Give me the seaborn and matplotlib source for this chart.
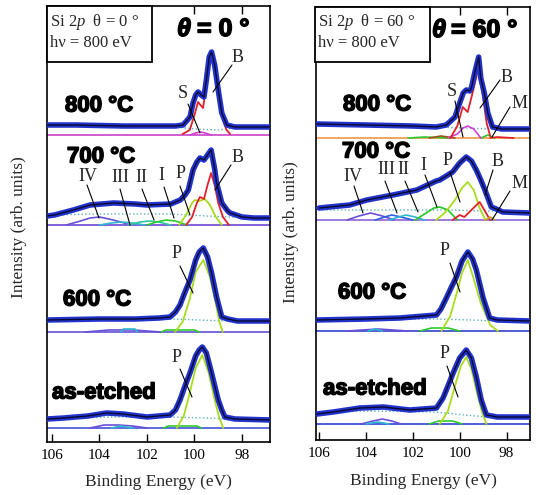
import numpy as np
import pandas as pd
import matplotlib
matplotlib.use("Agg")
import matplotlib.pyplot as plt
import seaborn as sns
from matplotlib import patheffects as pe
from matplotlib.patches import Rectangle

# ---------------- data (binding energy in eV, intensity in arb. units) ----------------
# theta = 0 deg panel
t0_ae_be = [106.2, 105.5, 104.5, 103.7, 103.0, 102.0, 101.03, 100.8, 100.61, 100.4, 100.19, 99.95, 99.8, 99.67, 99.5, 99.28, 99.0, 98.85, 98.72, 98.3, 96.8]
t0_ae_int = [9, 10, 12, 15, 14, 11, 13, 18, 28, 42, 55, 72, 78, 81, 75, 55, 28, 18, 11, 9, 8]
t0_ae_P_be = [100.75, 100.45, 100.2, 99.95, 99.67, 99.4, 99.15, 98.95, 98.79]
t0_ae_P_int = [0, 12, 35, 60, 73, 55, 28, 10, 0]
t0_ae_s1_be = [104.4, 103.8, 103.2, 102.6, 102.0]
t0_ae_s1_int = [0, 3, 3, 2, 0]
t0_ae_s2_be = [103.5, 103.1, 102.6]
t0_ae_s2_int = [0, 2, 0]
t0_ae_s3_be = [101.3, 101.1, 99.9, 99.7]
t0_ae_s3_int = [0, 2, 2, 0]
t0_ae_bg_be = [106.2, 103.5, 101.0, 99.5, 98.7, 96.8]
t0_ae_bg_int = [9, 11, 11, 10, 9, 8]

t0_600_be = [106.2, 104.0, 102.5, 101.5, 101.03, 100.8, 100.61, 100.4, 100.19, 99.95, 99.8, 99.63, 99.45, 99.28, 99.07, 98.85, 98.6, 98.2, 96.8]
t0_600_int = [12, 13, 13, 14, 15, 20, 27, 40, 52, 72, 80, 84, 75, 59, 35, 15, 13, 11, 11]
t0_600_P_be = [100.82, 100.5, 100.2, 99.95, 99.63, 99.35, 99.1, 98.95, 98.81]
t0_600_P_int = [0, 10, 33, 60, 72, 55, 28, 10, 0]
t0_600_s1_be = [104.6, 103.6, 102.6, 101.4]
t0_600_s1_int = [0, 2, 2, 0]
t0_600_s2_be = [103.1, 103.0, 102.5, 102.4]
t0_600_s2_int = [0, 3, 3, 0]
t0_600_s3_be = [101.4, 101.2, 100.0, 99.8]
t0_600_s3_int = [0, 2, 2, 0]
t0_600_bg_be = [106.2, 101.0, 99.8, 98.6, 96.8]
t0_600_bg_int = [12, 13, 12, 11, 11]

t0_700_be = [106.2, 105.9, 105.1, 104.4, 103.4, 102.5, 102.0, 101.0, 100.6, 100.4, 100.26, 100.06, 99.9, 99.77, 99.6, 99.45, 99.3, 99.15, 99.07, 98.85, 98.6, 98.5, 98.0, 97.5, 96.8]
t0_700_int = [9, 10, 15, 20, 22, 21, 20, 21, 25, 30, 35, 55, 63, 67, 65, 70, 75, 56, 42, 22, 14, 12, 8, 7, 7]
t0_700_IV_be = [105.4, 104.8, 104.4, 104.0, 103.6, 103.1, 102.7]
t0_700_IV_int = [0, 4, 7, 8, 6, 3, 0]
t0_700_III_be = [104.0, 103.5, 103.1, 102.6, 102.1]
t0_700_III_int = [0, 2, 3, 2, 0]
t0_700_II_be = [102.8, 102.3, 101.9, 101.5, 101.0]
t0_700_II_int = [0, 3, 4, 3, 0]
t0_700_I_be = [102.0, 101.6, 101.2, 100.8, 100.3]
t0_700_I_int = [0, 3, 5, 4, 0]
t0_700_P_be = [100.65, 100.35, 100.1, 99.98, 99.8, 99.56, 99.35, 99.1, 98.85]
t0_700_P_int = [0, 10, 22, 25, 24, 26, 20, 8, 0]
t0_700_B_be = [100.35, 100.1, 99.9, 99.77, 99.6, 99.45, 99.3, 99.15, 99.0, 98.8, 98.55]
t0_700_B_int = [0, 8, 22, 28, 26, 40, 52, 40, 22, 8, 0]
t0_700_bg_be = [106.2, 104.0, 101.0, 99.5, 98.5, 96.8]
t0_700_bg_int = [10, 11, 11, 9, 8, 7]

t0_800_be = [106.2, 105.0, 103.0, 101.5, 100.8, 100.48, 100.19, 100.06, 99.95, 99.85, 99.72, 99.6, 99.5, 99.38, 99.28, 99.15, 99.0, 98.85, 98.64, 98.3, 97.5, 96.8]
t0_800_int = [10, 10, 9, 9, 9, 10, 18, 32, 40, 43, 40, 38, 55, 78, 83, 70, 45, 22, 10, 8, 8, 8]
t0_800_B_be = [100.5, 100.2, 100.0, 99.85, 99.75, 99.64, 99.5, 99.38, 99.28, 99.15, 98.95, 98.8, 98.65, 98.5]
t0_800_B_int = [1, 5, 20, 33, 30, 27, 50, 72, 78, 62, 38, 15, 5, 1]
t0_800_S_be = [100.2, 99.95, 99.75, 99.55, 99.3]
t0_800_S_int = [0, 2, 3, 2, 0]
t0_800_bg_be = [106.2, 101.2, 100.0, 99.0, 98.3, 96.8]
t0_800_bg_int = [10, 9, 6, 5, 7, 8]

# theta = 60 deg panel
t60_ae_be = [106.1, 105.39, 104.26, 103.26, 102.13, 100.99, 100.71, 100.5, 100.28, 100.0, 99.72, 99.5, 99.29, 99.08, 98.86, 98.4, 97.0]
t60_ae_int = [10, 12, 16, 17, 14, 16, 26, 38, 51, 66, 74, 66, 47, 24, 9, 7, 7]
t60_ae_P_be = [100.85, 100.5, 100.2, 99.95, 99.72, 99.5, 99.25, 99.05, 98.86]
t60_ae_P_int = [0, 13, 38, 58, 67, 55, 30, 12, 0]
t60_ae_s1_be = [104.2, 103.7, 103.3, 102.9, 102.5]
t60_ae_s1_int = [0, 3, 5, 3, 0]
t60_ae_s2_be = [104.0, 103.5, 103.0]
t60_ae_s2_int = [0, 2, 0]
t60_ae_s3_be = [101.3, 100.9, 100.3, 99.9]
t60_ae_s3_int = [0, 3, 3, 0]
t60_ae_bg_be = [106.1, 104.0, 101.0, 99.8, 98.8, 97.0]
t60_ae_bg_int = [12, 13, 12, 9, 7, 7]

t60_600_be = [106.1, 104.0, 102.55, 101.5, 100.99, 100.8, 100.57, 100.35, 100.14, 99.9, 99.65, 99.45, 99.29, 99.0, 98.72, 98.4, 97.0]
t60_600_int = [11, 12, 13, 15, 16, 22, 33, 44, 54, 70, 79, 72, 61, 33, 13, 11, 10]
t60_600_P_be = [100.78, 100.4, 100.1, 99.9, 99.65, 99.4, 99.1, 98.7, 98.37]
t60_600_P_int = [0, 15, 40, 58, 71, 52, 28, 6, 0]
t60_600_s1_be = [104.8, 103.5, 102.2]
t60_600_s1_int = [0, 2, 0]
t60_600_s2_be = [103.9, 103.6, 103.3]
t60_600_s2_int = [0, 2, 0]
t60_600_s3_be = [101.7, 101.2, 100.5, 100.0]
t60_600_s3_int = [0, 3, 3, 0]
t60_600_bg_be = [106.1, 101.0, 99.5, 98.4, 97.0]
t60_600_bg_int = [11, 12, 11, 10, 10]

t60_700_be = [106.0, 104.7, 103.96, 102.85, 101.83, 101.0, 100.85, 100.3, 100.0, 99.72, 99.5, 99.29, 99.1, 98.94, 98.65, 98.44, 98.17, 97.0]
t60_700_int = [12, 15, 20, 25, 30, 39, 40, 48, 57, 63, 59, 50, 40, 31, 13, 11, 8, 7]
t60_700_IV_be = [104.8, 104.3, 103.8, 103.3, 102.8]
t60_700_IV_int = [0, 4, 7, 4, 0]
t60_700_III_be = [103.6, 103.2, 102.9, 102.5, 102.0]
t60_700_III_int = [0, 3, 5, 3, 0]
t60_700_II_be = [103.0, 102.6, 102.3, 101.9, 101.5]
t60_700_II_int = [0, 3, 5, 3, 0]
t60_700_I_be = [101.9, 101.5, 101.1, 100.85, 100.5, 100.1]
t60_700_I_int = [0, 6, 12, 13, 10, 0]
t60_700_P_be = [101.0, 100.6, 100.2, 99.9, 99.66, 99.4, 99.15, 98.9]
t60_700_P_int = [0, 8, 20, 32, 38, 30, 12, 0]
t60_700_B_be = [100.3, 100.0, 99.8, 99.5, 99.15, 98.95, 98.7]
t60_700_B_int = [0, 5, 3, 10, 18, 10, 0]
t60_700_M_be = [98.9, 98.7, 98.5]
t60_700_M_int = [0, 3, 0]
t60_700_bg_be = [106.0, 103.0, 100.5, 99.0, 98.4, 97.0]
t60_700_bg_int = [10, 10, 10, 9, 9, 8]

t60_800_be = [106.1, 104.0, 102.0, 101.0, 100.57, 100.2, 100.0, 99.85, 99.72, 99.57, 99.5, 99.36, 99.19, 99.1, 98.95, 98.8, 98.6, 98.2, 97.0]
t60_800_int = [14, 13, 12, 11, 13, 21, 35, 45, 48, 47, 50, 65, 81, 60, 45, 25, 11, 9, 9]
t60_800_B_be = [100.4, 100.1, 99.87, 99.66, 99.45, 99.19, 99.0, 98.85, 98.7]
t60_800_B_int = [0, 12, 31, 26, 45, 71, 40, 15, 2]
t60_800_S_be = [100.5, 100.1, 99.85, 99.66, 99.4, 99.1]
t60_800_S_int = [0, 4, 10, 12, 9, 0]
t60_800_M_be = [99.1, 98.8, 98.5]
t60_800_M_int = [0, 3, 0]
t60_800_M2_be = [98.7, 98.4, 97.7]
t60_800_M2_int = [0, 1, 0]
t60_800_s1_be = [102.2, 101.5, 100.4]
t60_800_s1_int = [0, 1, 0]
t60_800_s2_be = [101.3, 100.8, 100.2]
t60_800_s2_int = [0, 2, 0]
t60_800_bg_be = [106.1, 101.0, 99.7, 98.6, 97.0]
t60_800_bg_int = [14, 11, 10, 9, 9]

# stacking offsets (as-etched, 600, 700, 800)
t0_offsets = [14, 110, 217, 307]
t60_offsets = [18, 111, 222, 304]
conditions = ["as-etched", "600 \u00b0C", "700 \u00b0C", "800 \u00b0C"]
xticks = [106, 104, 102, 100, 98]

# ---------------- styling ----------------
sns.set_style("ticks")
plt.rcParams["font.family"] = ["Liberation Serif", "DejaVu Serif"]
plt.rcParams["mathtext.fontset"] = "custom"
plt.rcParams["mathtext.rm"] = "Liberation Serif"
plt.rcParams["mathtext.it"] = "Liberation Serif:italic"

W, H = 536, 495
fig = plt.figure(figsize=(W / 100, H / 100), dpi=100)


def fp(x, y):
    return (x / W, 1 - y / H)


axL = fig.add_axes([47 / W, 1 - 442 / H, 223 / W, 436 / H])
axR = fig.add_axes([316 / W, 1 - 440 / H, 214 / W, 433 / H])

C_DATA = "#2233cc"
C_P = "#a8dc1c"
C_B = "#e0202a"
C_S = "#d040d0"
C_IV = "#6a50d8"
C_III = "#30b8d0"
C_II = "#30c8a0"
C_I = "#30c830"
C_BG = "#60b0b8"


def curve(ax, be, val, off, color, lw=1.0, ls="-", z=3):
    df = pd.DataFrame({"be": be, "y": np.asarray(val, dtype=float) + off})
    sns.lineplot(data=df, x="be", y="y", ax=ax, color=color, lw=lw,
                 linestyle=ls, zorder=z, estimator=None, sort=True)


def spectrum(ax, be, val, off):
    curve(ax, be, val, off, C_DATA, lw=4.0, z=5)
    curve(ax, be, val, off, "#0a0a30", lw=1.0, z=6)


def baseline(ax, off, color, xlim):
    curve(ax, list(xlim), [0, 0], off, color, lw=1.3, z=2)


# ---- left panel ----
xl = (106.21, 96.82)
o = t0_offsets
baseline(axL, o[0], "#5060e0", xl)
curve(axL, t0_ae_bg_be, t0_ae_bg_int, o[0], C_BG, 1.0, ":")
curve(axL, t0_ae_s1_be, t0_ae_s1_int, o[0], C_IV, 1.2)
curve(axL, t0_ae_s2_be, t0_ae_s2_int, o[0], C_III, 1.2)
curve(axL, t0_ae_s3_be, t0_ae_s3_int, o[0], C_I, 1.2)
curve(axL, t0_ae_P_be, t0_ae_P_int, o[0], C_P, 1.3)
spectrum(axL, t0_ae_be, t0_ae_int, o[0])

baseline(axL, o[1], "#7060d8", xl)
curve(axL, t0_600_bg_be, t0_600_bg_int, o[1], C_BG, 1.0, ":")
curve(axL, t0_600_s1_be, t0_600_s1_int, o[1], C_IV, 1.2)
curve(axL, t0_600_s2_be, t0_600_s2_int, o[1], C_III, 1.2)
curve(axL, t0_600_s3_be, t0_600_s3_int, o[1], C_I, 1.2)
curve(axL, t0_600_P_be, t0_600_P_int, o[1], C_P, 1.3)
spectrum(axL, t0_600_be, t0_600_int, o[1])

baseline(axL, o[2], "#7a55d8", xl)
curve(axL, t0_700_bg_be, t0_700_bg_int, o[2], C_BG, 1.0, ":")
curve(axL, t0_700_IV_be, t0_700_IV_int, o[2], C_IV, 1.2)
curve(axL, t0_700_III_be, t0_700_III_int, o[2], C_III, 1.2)
curve(axL, t0_700_II_be, t0_700_II_int, o[2], C_II, 1.2)
curve(axL, t0_700_I_be, t0_700_I_int, o[2], C_I, 1.2)
curve(axL, t0_700_P_be, t0_700_P_int, o[2], C_P, 1.3)
curve(axL, t0_700_B_be, t0_700_B_int, o[2], C_B, 1.3)
spectrum(axL, t0_700_be, t0_700_int, o[2])

baseline(axL, o[3], "#d050d0", xl)
curve(axL, t0_800_bg_be, t0_800_bg_int, o[3], C_BG, 1.0, ":")
curve(axL, t0_800_S_be, t0_800_S_int, o[3], C_S, 1.2)
curve(axL, t0_800_B_be, t0_800_B_int, o[3], C_B, 1.3)
spectrum(axL, t0_800_be, t0_800_int, o[3])

# ---- right panel ----
xr = (106.13, 97.0)
o = t60_offsets
baseline(axR, o[0], "#4050d0", xr)
curve(axR, t60_ae_bg_be, t60_ae_bg_int, o[0], C_BG, 1.0, ":")
curve(axR, t60_ae_s1_be, t60_ae_s1_int, o[0], C_IV, 1.2)
curve(axR, t60_ae_s2_be, t60_ae_s2_int, o[0], C_III, 1.2)
curve(axR, t60_ae_s3_be, t60_ae_s3_int, o[0], C_I, 1.2)
curve(axR, t60_ae_P_be, t60_ae_P_int, o[0], C_P, 1.3)
spectrum(axR, t60_ae_be, t60_ae_int, o[0])

baseline(axR, o[1], "#4050d0", xr)
curve(axR, t60_600_bg_be, t60_600_bg_int, o[1], C_BG, 1.0, ":")
curve(axR, t60_600_s1_be, t60_600_s1_int, o[1], C_IV, 1.2)
curve(axR, t60_600_s2_be, t60_600_s2_int, o[1], C_III, 1.2)
curve(axR, t60_600_s3_be, t60_600_s3_int, o[1], C_I, 1.2)
curve(axR, t60_600_P_be, t60_600_P_int, o[1], C_P, 1.3)
spectrum(axR, t60_600_be, t60_600_int, o[1])

baseline(axR, o[2], "#9a70d8", xr)
curve(axR, t60_700_bg_be, t60_700_bg_int, o[2], C_BG, 1.0, ":")
curve(axR, t60_700_IV_be, t60_700_IV_int, o[2], C_IV, 1.2)
curve(axR, t60_700_III_be, t60_700_III_int, o[2], "#3060e0", 1.2)
curve(axR, t60_700_II_be, t60_700_II_int, o[2], C_III, 1.2)
curve(axR, t60_700_I_be, t60_700_I_int, o[2], C_I, 1.3)
curve(axR, t60_700_P_be, t60_700_P_int, o[2], C_P, 1.3)
curve(axR, t60_700_B_be, t60_700_B_int, o[2], C_B, 1.3)
curve(axR, t60_700_M_be, t60_700_M_int, o[2], "#c8a020", 1.2)
spectrum(axR, t60_700_be, t60_700_int, o[2])

baseline(axR, o[3], "#f0a050", xr)
curve(axR, t60_800_bg_be, t60_800_bg_int, o[3], C_BG, 1.0, ":")
curve(axR, t60_800_s1_be, t60_800_s1_int, o[3], C_I, 1.2)
curve(axR, t60_800_s2_be, t60_800_s2_int, o[3], "#a05020", 1.2)
curve(axR, t60_800_M_be, t60_800_M_int, o[3], C_I, 1.2)
curve(axR, t60_800_M2_be, t60_800_M2_int, o[3], C_B, 1.2)
curve(axR, t60_800_S_be, t60_800_S_int, o[3], C_S, 1.2)
curve(axR, t60_800_B_be, t60_800_B_int, o[3], C_B, 1.3)
spectrum(axR, t60_800_be, t60_800_int, o[3])

for ax, xlim, ylim in ((axL, xl, (0, 436)), (axR, xr, (2, 435))):
    ax.set_xlim(*xlim)
    ax.set_ylim(*ylim)
    ax.set_xticks(xticks)
    ax.set_xticklabels([str(t) for t in xticks], fontsize=11)
    ax.set_yticks([])
    ax.tick_params(axis="x", direction="in", length=6, width=1.0, top=True,
                   labeltop=False, pad=5, colors="black")
    ax.set_xlabel("")
    ax.set_ylabel("")
    for s in ax.spines.values():
        s.set_visible(True)
        s.set_linewidth(1.2)
        s.set_color("black")

# ---------------- text ----------------
bold = dict(family=["Liberation Sans", "DejaVu Sans"], fontweight="bold",
            fontsize=16, color="black",
            path_effects=[pe.withStroke(linewidth=1.1, foreground="black")])
cond_pos_L = [(52, 393), (63, 300), (67, 157), (65, 106)]
cond_pos_R = [(323, 389), (338, 293), (342, 152), (343, 105)]
for name, (x, y) in zip(conditions, cond_pos_L):
    fig.text(*fp(x, y), name, ha="left", va="center", **bold)
for name, (x, y) in zip(conditions, cond_pos_R):
    fig.text(*fp(x, y), name, ha="left", va="center", **bold)

tb = dict(family=["Liberation Sans", "DejaVu Sans"], fontweight="bold",
          fontsize=18, color="black",
          path_effects=[pe.withStroke(linewidth=1.1, foreground="black")])
fig.text(*fp(177, 29), "\u03b8", ha="left", va="center", style="italic", **tb)
fig.text(*fp(197, 29), "= 0 \u00b0", ha="left", va="center", **tb)
fig.text(*fp(432, 30), "\u03b8", ha="left", va="center", style="italic", **tb)
fig.text(*fp(451, 30), "= 60 \u00b0", ha="left", va="center", **tb)

# info boxes
for (x0, y0, x1, y1, ang) in ((47, 6, 152, 62, "0"), (315, 7, 430, 62, "60")):
    r = Rectangle(fp(x0, y1), (x1 - x0) / W, (y1 - y0) / H, transform=fig.transFigure,
                  facecolor="white", edgecolor="black", lw=1.3, zorder=10)
    fig.add_artist(r)
    fig.text(*fp(x0 + 3, 22), "Si 2$p$  \u03b8 = " + ang + " \u00b0", ha="left",
             va="center", fontsize=12, zorder=11)
    fig.text(*fp(x0 + 3, 43), "h\u03bd = 800 eV", ha="left", va="center",
             fontsize=12, zorder=11)

# peak labels with leader lines (figure-pixel positions)
labels = [
    ("S", (183, 93), (188, 104), (200, 133)),
    ("B", (238, 58), (232, 65), (213, 92)),
    ("B", (238, 158), (231, 165), (215, 190)),
    ("IV", (88, 176), (87, 185), (99, 218)),
    ("III", (120, 178), (120, 189), (130, 225)),
    ("II", (141, 177), (142, 189), (154, 220)),
    ("I", (161, 175), (164, 187), (174, 218)),
    ("P", (181, 174), (180, 186), (190, 215)),
    ("P", (177, 254), (180, 266), (193, 293)),
    ("P", (177, 357), (180, 369), (192, 397)),
    ("S", (452, 92), (455, 101), (463, 137)),
    ("B", (507, 77), (500, 80), (480, 108)),
    ("M", (520, 103), (510, 107), (492, 137)),
    ("IV", (353, 176), (354, 186), (363, 213)),
    ("III", (386, 170), (385, 181), (397, 213)),
    ("II", (403, 170), (405, 181), (418, 212)),
    ("I", (423, 166), (425, 175), (437, 207)),
    ("P", (448, 160), (450, 172), (460, 202)),
    ("B", (498, 161), (493, 170), (485, 195)),
    ("M", (520, 184), (510, 191), (492, 220)),
    ("P", (445, 250), (450, 263), (460, 292)),
    ("P", (445, 354), (447, 366), (458, 397)),
]
for txt, tp, p0, p1 in labels:
    fig.text(*fp(*tp), txt, ha="center", va="center", fontsize=13, zorder=12)
    fig.add_artist(plt.Line2D([fp(*p0)[0], fp(*p1)[0]], [fp(*p0)[1], fp(*p1)[1]],
                              transform=fig.transFigure, color="black", lw=0.8, zorder=12))

fig.text(*fp(158, 482), "Binding Energy (eV)", ha="center", va="center", fontsize=12.5)
fig.text(*fp(423, 481), "Binding Energy (eV)", ha="center", va="center", fontsize=12.5)
fig.text(*fp(19, 227), "Intensity (arb. units)", ha="center", va="center",
         rotation=90, fontsize=12.5)
fig.text(*fp(291, 232), "Intensity (arb. units)", ha="center", va="center",
         rotation=90, fontsize=12.5)

fig.savefig("out.png", dpi=100, facecolor="white")
